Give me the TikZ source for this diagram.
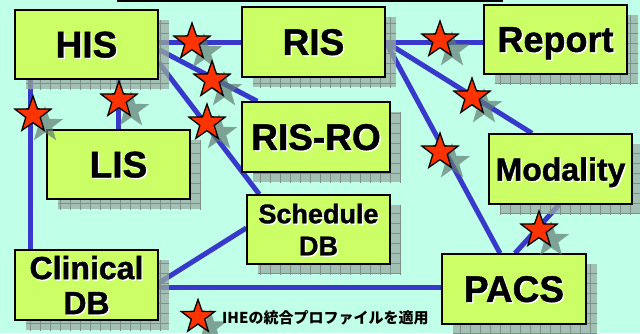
\documentclass[tikz,border=0pt]{standalone}
\usepackage{fontspec}
\setmainfont{Liberation Sans}
\newfontfamily\boxfont{Liberation Sans}[UprightFont=* Bold, FakeBold=1.2]
\newfontfamily\cjkfont{Noto Sans CJK JP}
\usetikzlibrary{shapes.geometric,patterns.meta,calc}
\definecolor{bgcol}{RGB}{192,255,232}
\definecolor{boxfill}{RGB}{204,255,102}
\definecolor{linkblue}{RGB}{56,56,204}
\definecolor{starfill}{RGB}{255,51,0}
\definecolor{shadowfill}{RGB}{152,172,162}
\definecolor{shadowgrid}{RGB}{125,145,137}
\definecolor{starshadow}{RGB}{96,124,114}
\pgfdeclarelayer{bglayer}
\pgfdeclarelayer{lines}
\pgfsetlayers{bglayer,lines,main}
\tikzset{
  conn/.style={draw=linkblue, line width=5pt},
  boxst/.style={rectangle, draw=black, line width=1.5pt, fill=boxfill, inner sep=0pt},
  txt/.style={inner sep=0pt, text depth=0pt, align=center},
  starbase/.style={shape=star, star points=5, star point ratio=2.5, inner sep=0pt},
  redstar/.style={starbase, fill=starfill, draw=black, line width=1.3pt},
  shadestar/.style={starbase, fill=starshadow, fill opacity=0.7, draw=none},
}
% name, cx, cy, w, h, font size, baselineskip, text
\newcommand{\ibox}[8]{%
  \fill[shadowfill, fill opacity=0.75] ($(#2,#3)+(-#4/2+11,-#5/2+10)$) rectangle ($(#2,#3)+(#4/2+11,#5/2+10)$);
  \fill[pattern={Hatch[angle=0,distance=10pt,line width=0.5pt]}, pattern color=shadowgrid] ($(#2,#3)+(-#4/2+11,-#5/2+10)$) rectangle ($(#2,#3)+(#4/2+11,#5/2+10)$);
  \node[boxst, minimum width=#4pt, minimum height=#5pt] (#1) at (#2,#3) {};
  \node[txt, text=white, font=\boxfont\fontsize{#6}{#7}\selectfont] (#1w) at ([shift={(1.3pt,-1.3pt)}]#1.center) {#8};
  \node[txt, text=black, font=\boxfont\fontsize{#6}{#7}\selectfont] (#1t) at (#1.center) {#8};
}
% name, x, y, size
\newcommand{\istar}[4]{%
  \node[shadestar, minimum size=#4pt] (#1s) at ($(#2,#3)+(12,10)$) {};
  \node[redstar, minimum size=#4pt] (#1) at (#2,#3) {};
}
\begin{document}
\begin{tikzpicture}[x=1pt,y=-1pt]
\useasboundingbox (0,0) rectangle (640,333);
\begin{pgfonlayer}{bglayer}
  \fill[bgcol] (0,0) rectangle (640,333);
  \draw[black, line width=1.5pt] (117,0.75) -- (503,0.75);
\end{pgfonlayer}

\ibox{HIS}{86.5}{44.5}{143}{69}{37}{40}{HIS}
\ibox{RIS}{313.5}{42}{143}{70}{37}{40}{RIS}
\ibox{Report}{555.5}{39.5}{143}{69}{36}{40}{Report}
\ibox{LIS}{118.5}{164.5}{143}{69}{37}{40}{LIS}
\ibox{RISRO}{316}{137}{148}{70}{37}{40}{RIS-RO}
\ibox{Sched}{318.5}{229.5}{143}{69}{27}{32}{Schedule\\DB}
\ibox{Modality}{560.5}{169}{143}{70}{32}{36}{Modality}
\ibox{Clinical}{86.5}{285}{143}{70}{32}{35}{Clinical\\DB}
\ibox{PACS}{514}{289}{144}{70}{37}{40}{PACS}

\begin{pgfonlayer}{lines}
  \draw[conn] ([yshift=2.5pt]HIS.east) -- (RIS.west);
  \draw[conn] ([yshift=-5pt]HIS.east) -- ([xshift=16pt]RISRO.north west);
  \draw[conn] ([yshift=-18pt]HIS.east) -- ([xshift=13pt]Sched.north west);
  \draw[conn] (LIS.north |- HIS.south) -- (LIS.north);
  \draw[conn] ([xshift=16pt]HIS.south west) -- ([xshift=16pt]Clinical.north west);
  \draw[conn] (RIS.east) -- (RIS.east -| Report.west);
  \draw[conn] (RIS.east) -- ([xshift=-28.5pt]Modality.north);
  \draw[conn] (RIS.east) -- ([xshift=-14pt]PACS.north);
  \draw[conn] ([xshift=-1.5pt]Modality.south) -- ([xshift=1pt]PACS.north);
  \draw[conn] ([yshift=2pt]Clinical.east) -- ([yshift=1.5pt]Sched.west);
  \draw[conn] ([yshift=-2pt]Clinical.east) -- ([yshift=-2pt]Clinical.east -| PACS.west);
\end{pgfonlayer}

\istar{s1}{192}{42}{38}
\istar{s2}{212}{80}{38}
\istar{s3}{119}{100}{38}
\istar{s4}{33}{115}{38}
\istar{s5}{207}{123}{38}
\istar{s6}{440}{40}{38}
\istar{s7}{472}{97}{38}
\istar{s8}{440}{152}{38}
\istar{s9}{539}{230}{38}
\istar{sL}{198}{317}{35}

\node[inner sep=0pt, anchor=base west, font=\cjkfont\bfseries\fontsize{15}{18}\selectfont] (legend) at (222,323) {IHEの統合プロファイルを適用};
\end{tikzpicture}
\end{document}
